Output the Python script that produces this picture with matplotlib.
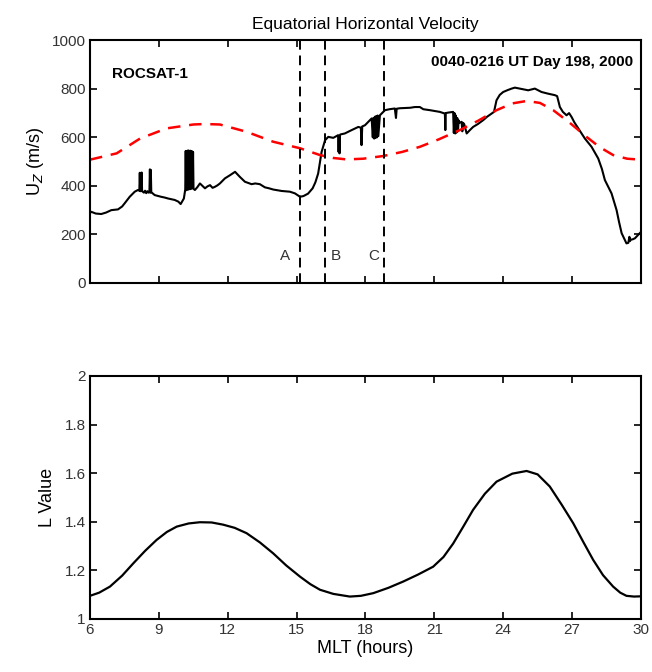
import matplotlib
matplotlib.use('Agg')
from matplotlib import pyplot as plt
from matplotlib.ticker import FormatStrFormatter

plt.rcParams['font.family'] = ['Liberation Sans', 'DejaVu Sans']

# ROCSAT-1 measured velocity (MLT hours, m/s); spikes are written as up/down pairs
t_obs = [6.0, 6.06, 6.25, 6.49, 6.7, 6.93, 7.22, 7.4, 7.51, 7.73, 7.95, 8.09,
         8.15, 8.17, 8.19, 8.21, 8.23, 8.25, 8.27, 8.3, 8.35, 8.4, 8.45, 8.5, 8.55,
         8.59, 8.61, 8.63, 8.65, 8.67, 8.72, 8.82, 9.1, 9.25, 9.4, 9.55, 9.69, 9.85, 9.95, 10.09,
         10.15, 10.17, 10.19, 10.21, 10.23, 10.25, 10.27, 10.29, 10.31, 10.33, 10.35, 10.37,
         10.39, 10.41, 10.43, 10.45, 10.47, 10.49, 10.51,
         10.57, 10.68, 10.79, 10.9, 11.01, 11.12, 11.23, 11.34, 11.44, 11.55, 11.66, 11.88, 12.1,
         12.32, 12.53, 12.75, 13.04, 13.2, 13.4, 13.62, 13.8, 13.98, 14.35, 14.71, 14.93, 15.15,
         15.3, 15.5, 15.7, 15.82, 15.94, 16.09, 16.24, 16.38, 16.6, 16.81, 16.83, 16.85, 16.87,
         16.89, 16.91, 17.1, 17.4, 17.69, 17.8, 17.83, 17.86, 17.98, 18.27, 18.32, 18.35, 18.38,
         18.41, 18.44, 18.47, 18.5, 18.53, 18.56, 18.63, 18.85, 19.05, 19.28, 19.33, 19.36, 19.5,
         19.72, 19.95, 20.15, 20.37, 20.52, 20.81, 21.05, 21.24, 21.46, 21.48, 21.5, 21.6,
         21.82, 21.85, 21.88, 21.91, 21.94, 21.97, 22.0, 22.03, 22.06, 22.1, 22.19, 22.22, 22.25,
         22.3, 22.41, 22.55, 22.69, 22.9, 23.13, 23.3, 23.49, 23.6, 23.71, 23.85, 24.0, 24.2,
         24.37, 24.51, 24.73, 24.95, 25.09, 25.38, 25.67, 25.96, 26.25, 26.35, 26.47, 26.6,
         26.76, 26.87, 26.98, 27.1, 27.27, 27.56, 27.85, 28.14, 28.3, 28.43, 28.72, 28.94, 29.05,
         29.16, 29.37, 29.45, 29.5, 29.52, 29.56, 29.65, 29.74, 29.85, 29.95, 30.0]
u_obs = [288, 293, 286, 284, 290, 300, 303, 315, 328, 355, 376, 383,
         380, 454, 378, 452, 380, 455, 378, 376, 372, 380, 370, 378, 372,
         375, 468, 372, 466, 374, 370, 362, 355, 352, 348, 345, 342, 335, 325, 348,
         385, 544, 382, 542, 386, 545, 384, 546, 388, 543, 386, 545, 390, 544, 388, 542, 392, 540, 388,
         383, 395, 410, 400, 390, 398, 403, 392, 396, 402, 410, 431, 444,
         458, 437, 417, 407, 410, 407, 394, 390, 385, 379, 376, 369, 355,
         358, 368, 390, 415, 451, 540, 588, 602, 598, 609, 540, 605, 534,
         610, 612, 616, 630, 643, 640, 568, 645, 650, 678, 600, 680, 595,
         685, 598, 688, 600, 690, 605, 691, 712, 716, 719, 680, 718, 720,
         721, 722, 725, 725, 716, 712, 708, 705, 698, 630, 700, 702,
         705, 618, 700, 616, 690, 620, 680, 625, 670, 660, 664, 625, 660,
         655, 616, 630, 643, 655, 671, 685, 698, 705, 753, 775, 787, 795,
         801, 805, 801, 797, 794, 801, 787, 780, 774, 770, 725, 705,
         691, 700, 684, 662, 637, 595, 561, 513, 470, 424, 369, 300, 250,
         205, 163, 165, 190, 172, 178, 180, 184, 195, 205, 210]

# model velocity (red dashed)
t_mod = [6.0, 7.16, 8.18, 9.34, 10.5, 11.0, 11.66, 12.82, 13.98, 15.15, 16.02, 16.6, 17.18, 17.9,
         18.77, 19.6, 20.37, 21.2, 22.11, 22.9, 23.71, 24.4, 25.02, 25.6, 26.18, 26.9, 27.63, 28.2,
         28.79, 29.4, 30.0]
u_mod = [508, 534, 595, 637, 653, 655, 653, 623, 582, 555, 527, 515, 509, 512,
         523, 540, 561, 592, 630, 668, 712, 740, 750, 742, 712, 660, 602, 560, 527, 512, 508]

# L value along the orbit
t_L = [6.0, 6.4, 6.87, 7.4, 7.89, 8.4, 8.9, 9.35, 9.78, 10.3, 10.79, 11.3, 11.8, 12.3, 12.82, 13.4,
       13.98, 14.55, 15.15, 15.6, 16.02, 16.6, 17.32, 17.8, 18.34, 19.0, 19.65, 20.3, 20.95, 21.4,
       21.82, 22.25, 22.69, 23.2, 23.71, 24.4, 25.02, 25.5, 26.03, 26.55, 27.05, 27.5, 27.92,
       28.35, 28.79, 29.1, 29.37, 29.7, 30.0]
L_val = [1.095, 1.108, 1.133, 1.178, 1.229, 1.28, 1.325, 1.358, 1.38, 1.393, 1.398, 1.397, 1.388,
         1.375, 1.353, 1.315, 1.27, 1.22, 1.174, 1.143, 1.12, 1.103, 1.092, 1.095, 1.106, 1.128,
         1.154, 1.183, 1.215, 1.255, 1.31, 1.378, 1.449, 1.515, 1.565, 1.598, 1.609, 1.595, 1.545,
         1.47, 1.394, 1.315, 1.243, 1.18, 1.133, 1.108, 1.095, 1.092, 1.093]

t_marks = [15.15, 16.24, 18.82]
mark_labels = ['A', 'B', 'C']
mark_label_x = [14.5, 16.7, 18.35]

fig = plt.figure(figsize=(6.52, 6.72), dpi=100)
ax1 = fig.add_axes([0.138, 0.579, 0.845, 0.361])
ax2 = fig.add_axes([0.138, 0.079, 0.845, 0.3615])

ax1.plot(t_obs, u_obs, color='black', lw=1.5)
ax1.plot(t_mod, u_mod, color='red', lw=1.8, dashes=(5, 3.5))
for tm, lab, lx in zip(t_marks, mark_labels, mark_label_x):
    ax1.axvline(tm, color='black', lw=1.4, dashes=(5, 3))
    ax1.text(lx, 110, lab, fontsize=11, color='#333333', ha='center', va='center')
ax1.set_xlim(6, 30)
ax1.set_ylim(0, 1000)
ax1.set_xticks([6, 9, 12, 15, 18, 21, 24, 27, 30])
ax1.set_xticklabels([])
ax1.set_yticks([0, 200, 400, 600, 800, 1000])
ax1.set_ylabel('U$_Z$ (m/s)', fontsize=13, labelpad=4)
ax1.set_title('Equatorial Horizontal Velocity', fontsize=12.5, pad=8)
ax1.text(0.04, 0.86, 'ROCSAT-1', transform=ax1.transAxes, fontsize=11, fontweight='bold', va='center')
ax1.text(0.985, 0.91, '0040-0216 UT Day 198, 2000', transform=ax1.transAxes, fontsize=11,
         fontweight='bold', ha='right', va='center')

ax2.plot(t_L, L_val, color='black', lw=1.6)
ax2.set_xlim(6, 30)
ax2.set_ylim(1, 2)
ax2.set_xticks([6, 9, 12, 15, 18, 21, 24, 27, 30])
ax2.set_yticks([1, 1.2, 1.4, 1.6, 1.8, 2])
ax2.yaxis.set_major_formatter(FormatStrFormatter('%g'))
ax2.set_ylabel('L Value', fontsize=13, labelpad=6)
ax2.set_xlabel('MLT (hours)', fontsize=13, labelpad=2)

for ax in (ax1, ax2):
    ax.tick_params(direction='in', top=True, right=True, length=5, width=1.2,
                   labelsize=11, labelcolor='#333333', pad=3)
    for s in ax.spines.values():
        s.set_linewidth(1.5)

fig.savefig('out.png', dpi=100)
